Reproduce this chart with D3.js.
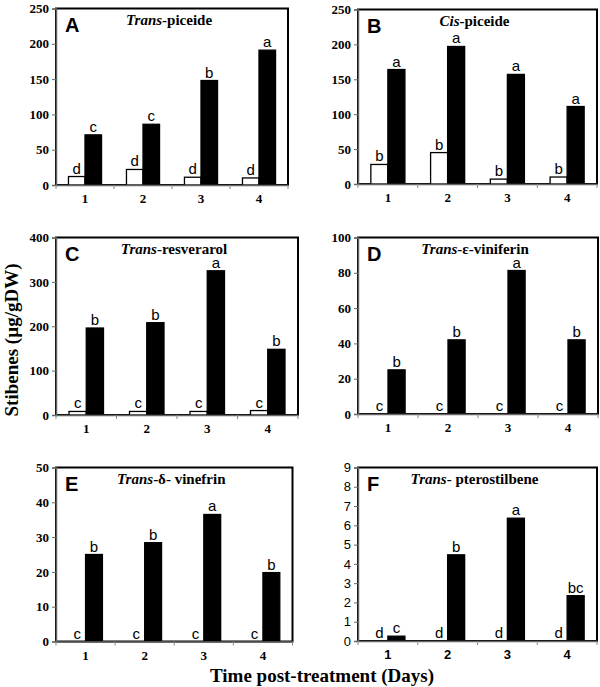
<!DOCTYPE html>
<html><head><meta charset="utf-8">
<script src="https://cdn.jsdelivr.net/npm/d3@7"></script>
<style>body{margin:0;background:#fff}svg{display:block}</style>
</head><body>
<svg id="c" width="600" height="687"></svg>
<script>
// ---- data ----
const days = ["1", "2", "3", "4"];
const series = ["control", "treated"];

const panelIds = ["A", "B", "C", "D", "E", "F"];
const titleItalic = ["Trans", "Cis", "Trans", "Trans", "Trans", "Trans"];
const titleRest = ["-piceide", "-piceide", "-resverarol", "-\u03b5-viniferin", "-\u03b4- vinefrin", "- pterostilbene"];

const controlA = [12, 22, 11, 10];
const treatedA = [71, 86, 148, 191];
const lettersCtlA = ["d", "d", "d", "d"];
const lettersTrtA = ["c", "c", "b", "a"];

const controlB = [28, 45, 7, 10];
const treatedB = [164, 197, 157, 111];
const lettersCtlB = ["b", "b", "b", "b"];
const lettersTrtB = ["a", "a", "a", "a"];

const controlC = [8, 8, 8, 10];
const treatedC = [196, 208, 325, 148];
const lettersCtlC = ["c", "c", "c", "c"];
const lettersTrtC = ["b", "b", "a", "b"];

const controlD = [0, 0, 0, 0];
const treatedD = [25, 42, 81.3, 42];
const lettersCtlD = ["c", "c", "c", "c"];
const lettersTrtD = ["b", "b", "a", "b"];

const controlE = [0, 0, 0, 0];
const treatedE = [25, 28.4, 36.5, 19.8];
const lettersCtlE = ["c", "c", "c", "c"];
const lettersTrtE = ["b", "b", "a", "b"];

const controlF = [0, 0, 0, 0];
const treatedF = [0.25, 4.47, 6.37, 2.35];
const lettersCtlF = ["d", "d", "d", "d"];
const lettersTrtF = ["c", "b", "a", "bc"];

const yMax = [250, 250, 400, 100, 50, 9];
const yStep = [50, 50, 100, 20, 10, 1];

const yTitle = "Stibenes (\u00b5g/gDW)";
const xTitle = "Time post-treatment (Days)";

// ---- layout ----
const frames = [
  {x0: 56, x1: 288, y0: 8.5, y1: 185},
  {x0: 358, x1: 597, y0: 9.5, y1: 184},
  {x0: 56, x1: 298, y0: 237.5, y1: 415},
  {x0: 358, x1: 598, y0: 237.5, y1: 414},
  {x0: 56, x1: 292.5, y0: 467.5, y1: 641.5},
  {x0: 358, x1: 597, y0: 467.5, y1: 641}
];
const controls = [controlA, controlB, controlC, controlD, controlE, controlF];
const treateds = [treatedA, treatedB, treatedC, treatedD, treatedE, treatedF];
const lCtl = [lettersCtlA, lettersCtlB, lettersCtlC, lettersCtlD, lettersCtlE, lettersCtlF];
const lTrt = [lettersTrtA, lettersTrtB, lettersTrtC, lettersTrtD, lettersTrtE, lettersTrtF];

const serif = "'Liberation Serif','Times New Roman',serif";
const sans = "'Liberation Sans',Arial,sans-serif";
const svg = d3.select("#c");

panelIds.forEach((id, i) => {
  const f = frames[i];
  const isF = id === "F";
  const x = d3.scaleBand().domain(days).range([f.x0, f.x1]).padding(0);
  const xs = d3.scaleBand().domain(series).range([0, x.bandwidth()]).paddingInner(0).paddingOuter(0.754);
  const y = d3.scaleLinear().domain([0, yMax[i]]).range([f.y1, f.y0]);
  const g = svg.append("g");

  // frame
  g.append("rect").attr("x", f.x0).attr("y", f.y0)
    .attr("width", f.x1 - f.x0).attr("height", f.y1 - f.y0)
    .attr("fill", "none").attr("stroke", "#000").attr("stroke-width", 2);

  // bars
  const rows = days.map((d, k) => ({day: d, vals: [controls[i][k], treateds[i][k]], lets: [lCtl[i][k], lTrt[i][k]]}));
  rows.forEach(r => {
    series.forEach((s, j) => {
      const v = r.vals[j];
      const bx = x(r.day) + xs(s);
      g.append("rect")
        .attr("x", bx).attr("y", y(v))
        .attr("width", xs.bandwidth()).attr("height", Math.max(0, y(0) - y(v)))
        .attr("fill", j === 0 ? "#fff" : "#000")
        .attr("stroke", "#000").attr("stroke-width", 1.3);
      g.append("text")
        .attr("x", bx + xs.bandwidth() / 2).attr("y", y(v) - 3)
        .attr("text-anchor", "middle")
        .attr("font-family", sans).attr("font-size", 15)
        .text(r.lets[j]);
    });
  });

  // y axis
  const ticks = d3.range(0, yMax[i] + yStep[i] / 2, yStep[i]);
  const ya = d3.axisLeft(y).tickValues(ticks).tickSize(4).tickPadding(3).tickFormat(d3.format("d"));
  const yg = g.append("g").attr("transform", `translate(${f.x0},0)`).call(ya);
  yg.select(".domain").attr("stroke", "#666").attr("stroke-width", 1.5);
  yg.selectAll(".tick line").attr("stroke", "#666");
  yg.selectAll(".tick text")
    .attr("font-family", isF ? sans : serif)
    .attr("font-weight", isF ? "normal" : "bold")
    .attr("font-size", 13).attr("fill", "#000");

  // x axis
  const xa = d3.axisBottom(x).tickSize(0).tickPadding(9);
  const xg = g.append("g").attr("transform", `translate(0,${f.y1})`).call(xa);
  xg.select(".domain").attr("stroke", "#666").attr("stroke-width", 1.5);
  xg.selectAll(".tick text")
    .attr("font-family", isF ? sans : serif)
    .attr("font-weight", "bold").attr("font-size", 13).attr("fill", "#000");
  // boundary ticks
  const bounds = days.map(d => x(d)).concat([f.x1]);
  xg.selectAll(".bt").data(bounds).enter().append("line")
    .attr("x1", d => d).attr("x2", d => d).attr("y1", 0).attr("y2", 4)
    .attr("stroke", "#888").attr("stroke-width", 1);

  // panel letter
  g.append("text").attr("x", f.x0 + 9).attr("y", f.y0 + 23)
    .attr("font-family", sans).attr("font-weight", "bold").attr("font-size", 20)
    .text(id);

  // title
  const t = g.append("text").attr("x", (f.x0 + f.x1) / 2 - 3).attr("y", f.y0 + 16.5)
    .attr("text-anchor", "middle").attr("font-family", serif)
    .attr("font-weight", "bold").attr("font-size", 15);
  t.append("tspan").attr("font-style", "italic").text(titleItalic[i]);
  t.append("tspan").text(titleRest[i]);
});

// axis titles
svg.append("text").attr("transform", "translate(18,340) rotate(-90)")
  .attr("text-anchor", "middle").attr("font-family", serif)
  .attr("font-weight", "bold").attr("font-size", 19).text(yTitle);
svg.append("text").attr("x", 322).attr("y", 682)
  .attr("text-anchor", "middle").attr("font-family", serif)
  .attr("font-weight", "bold").attr("font-size", 19).text(xTitle);
</script>
</body></html>
